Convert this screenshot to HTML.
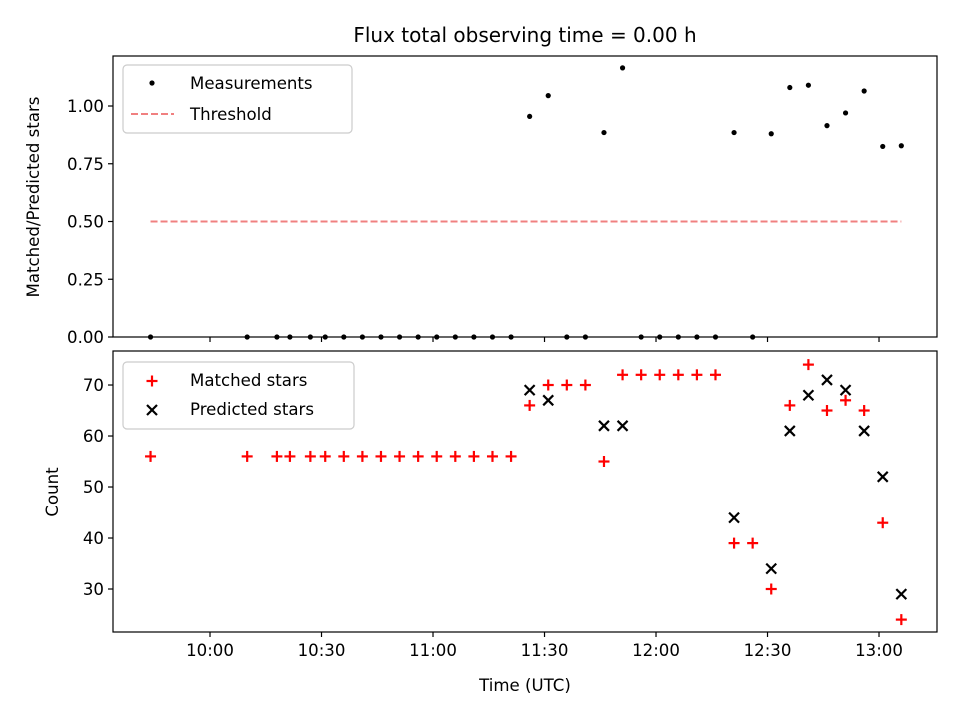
<!DOCTYPE html>
<html><head><meta charset="utf-8"><style>
body{margin:0;background:#fff}
svg text{font-family:"DejaVu Sans","Liberation Sans",sans-serif;fill:#000}
</style></head><body>
<svg id="chart" width="960" height="720" xmlns="http://www.w3.org/2000/svg"></svg>
<script>
const times = ["09:44","10:10","10:18","10:21.5","10:27","10:31","10:36","10:41","10:46","10:51","10:56","11:01","11:06","11:11","11:16","11:21","11:26","11:31","11:36","11:41","11:46","11:51","11:56","12:01","12:06","12:11","12:16","12:21","12:26","12:31","12:36","12:41","12:46","12:51","12:56","13:01","13:06"];
const ratios = [0,0,0,0,0,0,0,0,0,0,0,0,0,0,0,0,0.955,1.045,0,0,0.885,1.165,0,0,0,0,0,0.885,0,0.88,1.08,1.09,0.915,0.97,1.065,0.825,0.828];
const matched = [56,56,56,56,56,56,56,56,56,56,56,56,56,56,56,56,66,70,70,70,55,72,72,72,72,72,72,39,39,30,66,74,65,67,65,43,24];
const predicted = [null,null,null,null,null,null,null,null,null,null,null,null,null,null,null,null,69,67,null,null,62,62,null,null,null,null,null,44,null,34,61,68,71,69,61,52,29];
const threshold = 0.5;
const xTickLabels = ["10:00","10:30","11:00","11:30","12:00","12:30","13:00"];
const topYTicks = [0,0.25,0.5,0.75,1.0];
const botYTicks = [30,40,50,60,70];

const NS="http://www.w3.org/2000/svg";
const svg=document.getElementById('chart');
function el(t,a,p){const e=document.createElementNS(NS,t);for(const k in a)e.setAttribute(k,a[k]);(p||svg).appendChild(e);return e;}
function mins(s){const [h,m]=s.split(':');return +h*60+parseFloat(m);}
const L=113,R=937,xmin=9*60+33.9,xmax=13*60+15.6;
const X=t=>L+(mins(t)-xmin)/(xmax-xmin)*(R-L);
const T1=56,B1=337,T2=351,B2=632;
const FS=16.6;
const Y1=v=>B1-(v-0)/(1.2165)*(B1-T1);
const Y2=v=>B2-(v-21.57)/(76.67-21.57)*(B2-T2);

let t=el('text',{x:525,y:42,'text-anchor':'middle','font-size':20});t.textContent="Flux total observing time = 0.00 h";


const g1=el('g',{});
el('line',{x1:X(times[0]),x2:X(times[times.length-1]),y1:Y1(threshold),y2:Y1(threshold),stroke:'#f08080','stroke-width':2,'stroke-dasharray':'7,3'},g1);
ratios.forEach((r,i)=>{const c=el('circle',{cx:X(times[i]),cy:Y1(r),r:2.6,fill:'#000'},g1);
});
topYTicks.forEach(v=>{const y=Y1(v);el('line',{x1:L-5,x2:L,y1:y,y2:y,stroke:'#000','stroke-width':1.2},g1);
const tx=el('text',{x:L-9,y:y+6,'text-anchor':'end','font-size':FS},g1);tx.textContent=v.toFixed(2);
});
el('rect',{x:L,y:T1,width:R-L,height:B1-T1,fill:'none',stroke:'#000','stroke-width':1.2},g1);
xTickLabels.forEach(s=>{const x=X(s);el('line',{x1:x,x2:x,y1:B1,y2:B1+5,stroke:'#000','stroke-width':1.2},g1);});
let yt=el('text',{transform:`translate(39,197) rotate(-90)`,'text-anchor':'middle','font-size':FS},g1);yt.textContent="Matched/Predicted stars";

const lg1=el('g',{},g1);
el('rect',{x:123,y:65,width:229,height:68,rx:4,fill:'#fff',stroke:'#ccc','stroke-width':1.2},lg1);
el('circle',{cx:152,cy:83,r:2.6,fill:'#000'},lg1);
let lt=el('text',{x:190,y:89,'font-size':FS},lg1);lt.textContent="Measurements";
el('line',{x1:131,x2:174,y1:114,y2:114,stroke:'#f08080','stroke-width':2,'stroke-dasharray':'7,3'},lg1);
lt=el('text',{x:190,y:120,'font-size':FS},lg1);lt.textContent="Threshold";

const g2=el('g',{});
function plus(x,y,p){const g=el('g',{stroke:'#f00','stroke-width':2.2},p);el('line',{x1:x-5.5,x2:x+5.5,y1:y,y2:y},g);el('line',{x1:x,x2:x,y1:y-5.5,y2:y+5.5},g);return g;}
function cross(x,y,p){const g=el('g',{stroke:'#000','stroke-width':2.2},p);el('line',{x1:x-5,x2:x+5,y1:y-5,y2:y+5},g);el('line',{x1:x-5,x2:x+5,y1:y+5,y2:y-5},g);return g;}
predicted.forEach((v,i)=>{if(v==null)return;const m=cross(X(times[i]),Y2(v),g2);
});
matched.forEach((v,i)=>{const m=plus(X(times[i]),Y2(v),g2);
});
botYTicks.forEach(v=>{const y=Y2(v);el('line',{x1:L-5,x2:L,y1:y,y2:y,stroke:'#000','stroke-width':1.2},g2);
const tx=el('text',{x:L-9,y:y+6,'text-anchor':'end','font-size':FS},g2);tx.textContent=v;
});
el('rect',{x:L,y:T2,width:R-L,height:B2-T2,fill:'none',stroke:'#000','stroke-width':1.2},g2);
xTickLabels.forEach(s=>{const x=X(s);el('line',{x1:x,x2:x,y1:B2,y2:B2+5,stroke:'#000','stroke-width':1.2},g2);
const tx=el('text',{x:x,y:B2+24,'text-anchor':'middle','font-size':FS},g2);tx.textContent=s;
});
yt=el('text',{transform:`translate(58,492) rotate(-90)`,'text-anchor':'middle','font-size':FS},g2);yt.textContent="Count";

let xt=el('text',{x:525,y:691,'text-anchor':'middle','font-size':FS},g2);xt.textContent="Time (UTC)";

const lg2=el('g',{},g2);
el('rect',{x:123,y:362,width:231,height:67,rx:4,fill:'#fff',stroke:'#ccc','stroke-width':1.2},lg2);
plus(152,381,lg2);cross(152,410,lg2);
lt=el('text',{x:190,y:386,'font-size':FS},lg2);lt.textContent="Matched stars";
lt=el('text',{x:190,y:415,'font-size':FS},lg2);lt.textContent="Predicted stars";
</script>
</body></html>
